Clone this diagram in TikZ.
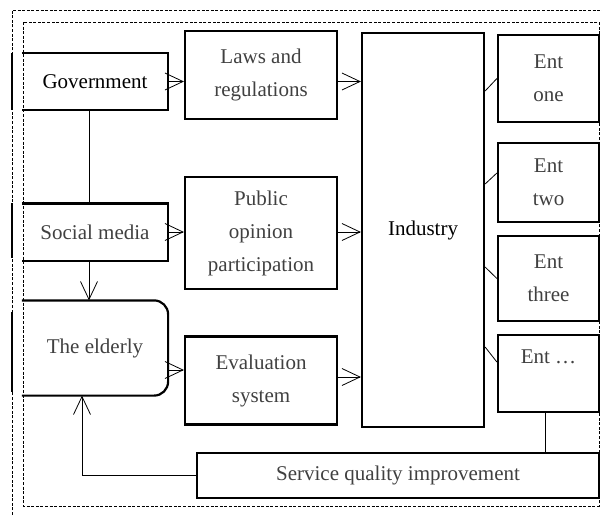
\documentclass[tikz,border=0pt]{standalone}
\usepackage{fontspec}
\setmainfont{Liberation Serif}
\usetikzlibrary{positioning,arrows.meta}
\tikzset{
	>={Straight Barb[length=18pt,width=17pt]},
	box/.style={draw, line width=2.2pt, text=black!75, align=center, inner sep=0pt,
		font=\fontsize{21}{33}\selectfont},
	openbox/.style={box, draw=none},
	edge/.style={line width=2.2pt},
	link/.style={line width=0.8pt},
	frame/.style={line width=0.7pt, dash pattern=on 3pt off 1.6pt},
}

\begin{document}
\begin{tikzpicture}[x=1pt, y=-1pt]
	\useasboundingbox (0,0) rectangle (602,515);

	\draw[frame] (23,22) rectangle (599,506);
	\draw[frame] (12,515) -- (12,10) -- (602,10);

	\node[openbox, text=black, minimum width=144pt, minimum height=55pt] (gov) at (95,81.5) {Government};
	\node[openbox, minimum width=144pt, minimum height=55pt] (soc) at (95,232) {Social media};
	\node[openbox, minimum width=144pt, minimum height=93pt] (eld) at (95,348) {The elderly};

	\node[box, minimum width=152pt, minimum height=88pt] (laws) at (261,75) {Laws and\\regulations};
	\node[box, minimum width=152pt, minimum height=112pt] (pub) at (261,233) {Public\\opinion\\participation};
	\node[box, minimum width=152pt, minimum height=88pt] (eval) at (261,380.5) {Evaluation\\system};

	\node[box, text=black, minimum width=122pt, minimum height=394pt] (ind) at (423,230) {Industry};

	\node[box, minimum width=101pt, minimum height=87pt] (ent1) at (548.5,78.5) {Ent\\one};
	\node[box, minimum width=101pt, minimum height=79pt] (ent2) at (548.5,182.5) {Ent\\two};
	\node[box, minimum width=101pt, minimum height=85pt] (ent3) at (548.5,278.5) {Ent\\three};
	\node[box, minimum width=101pt, minimum height=77pt] (entx) at (548.5,373.5) {Ent …\\\mbox{}};

	\node[box, minimum width=402pt, minimum height=45pt] (serv) at (398,475.5) {Service quality improvement};

	\draw[edge] (gov.north west) -- (gov.north east) -- (gov.south east) -- (gov.south west);
	\draw[edge] (soc.north west) -- (soc.north east) -- (soc.south east) -- (soc.south west);
	\draw[edge, rounded corners=14pt] (eld.north west) -- (eld.north east) -- (eld.south east) -- (eld.south west);

	\draw[line width=1.3pt] (12,53) -- (12,110);
	\draw[line width=1.3pt] (12,203) -- (12,258);
	\draw[line width=1.3pt] (12,312) -- (12,392);

	\begin{scope}[link, ->]
		\draw (gov.east) -- (gov.east -| laws.west);
		\draw (gov.east -| laws.east) -- (gov.east -| ind.west);
		\draw (soc.east) -- (soc.east -| pub.west);
		\draw (soc.east -| pub.east) -- (soc.east -| ind.west);
		\draw ([yshift=-22pt]eld.east) -- ([yshift=-22pt]eld.east -| eval.west);
		\draw ([yshift=3.5pt]eval.east) -- ([yshift=3.5pt]eval.east -| ind.west);
		\draw ([xshift=-6pt]soc.south) -- ([xshift=-6pt]eld.north);
		\draw (serv.west) -| ([xshift=-13pt]eld.south);
	\end{scope}

	\begin{scope}[link]
		\draw ([xshift=-6pt]gov.south) -- ([xshift=-6pt]soc.north);
		\draw ([yshift=139pt]ind.east) -- (ent1.west);
		\draw ([yshift=46pt]ind.east) -- ([yshift=9.5pt]ent2.west);
		\draw ([yshift=-37pt]ind.east) -- (ent3.west);
		\draw ([yshift=-117pt]ind.east) -- ([yshift=11.5pt]entx.west);
		\draw ([xshift=-3.5pt]entx.south) -- ([xshift=-3.5pt]entx.south |- serv.north);
	\end{scope}
\end{tikzpicture}
\end{document}
